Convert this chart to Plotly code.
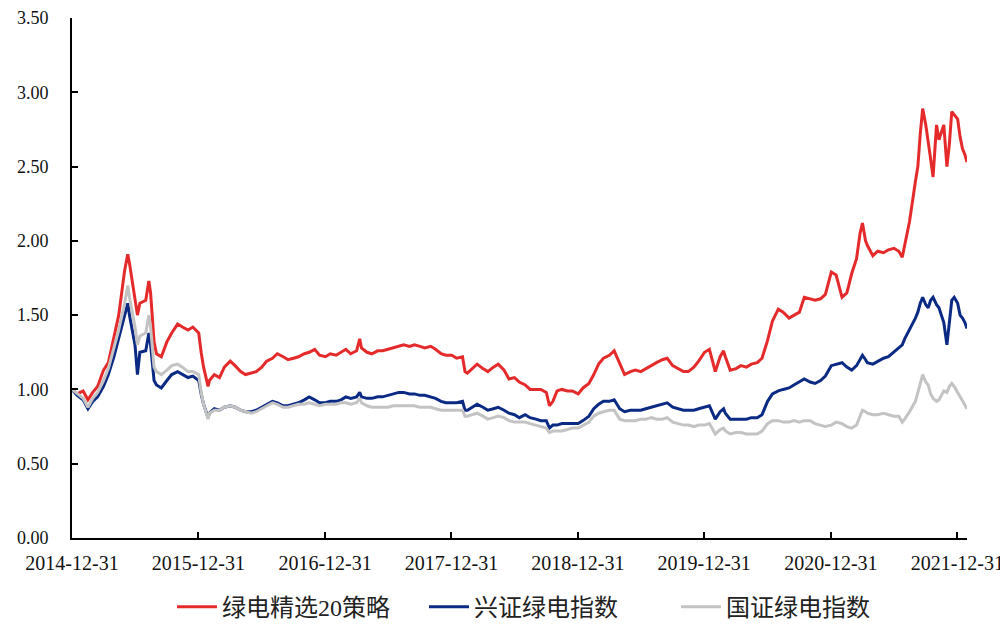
import plotly.graph_objects as go

DATES = [
    # 2015
    "2014-12-31", "2015-01-15", "2015-02-01", "2015-02-15", "2015-03-01", "2015-03-15", "2015-04-01",
    "2015-04-15", "2015-05-01", "2015-05-15", "2015-06-01", "2015-06-10", "2015-06-15", "2015-07-01",
    "2015-07-08", "2015-07-15", "2015-08-01", "2015-08-10", "2015-08-15", "2015-08-25", "2015-09-01",
    "2015-09-15", "2015-10-01", "2015-10-15", "2015-11-01", "2015-11-15", "2015-12-01", "2015-12-15",
    # 2016
    "2016-01-01", "2016-01-08", "2016-01-15", "2016-01-28", "2016-02-01", "2016-02-15", "2016-03-01",
    "2016-03-15", "2016-04-01", "2016-04-15", "2016-05-01", "2016-05-15", "2016-06-01", "2016-06-15",
    "2016-07-01", "2016-07-15", "2016-08-01", "2016-08-15", "2016-09-01", "2016-09-15", "2016-10-01",
    "2016-10-15", "2016-11-01", "2016-11-15", "2016-12-01", "2016-12-15",
    # 2017
    "2017-01-01", "2017-01-15", "2017-02-01", "2017-02-15", "2017-03-01", "2017-03-15", "2017-04-01",
    "2017-04-10", "2017-04-15", "2017-05-01", "2017-05-15", "2017-06-01", "2017-06-15", "2017-07-01",
    "2017-07-15", "2017-08-01", "2017-08-15", "2017-09-01", "2017-09-15", "2017-10-01", "2017-10-15",
    "2017-11-01", "2017-11-15", "2017-12-01", "2017-12-15",
    # 2018
    "2018-01-01", "2018-01-15", "2018-02-01", "2018-02-08", "2018-02-15", "2018-03-01", "2018-03-15",
    "2018-04-01", "2018-04-15", "2018-05-01", "2018-05-15", "2018-06-01", "2018-06-15", "2018-07-01",
    "2018-07-15", "2018-08-01", "2018-08-15", "2018-09-01", "2018-09-15", "2018-10-01", "2018-10-10",
    "2018-10-20", "2018-11-01", "2018-11-15", "2018-12-01", "2018-12-15",
    # 2019
    "2019-01-01", "2019-01-15", "2019-02-01", "2019-02-15", "2019-03-01", "2019-03-15", "2019-04-01",
    "2019-04-15", "2019-05-01", "2019-05-15", "2019-06-01", "2019-06-15", "2019-07-01", "2019-07-15",
    "2019-08-01", "2019-08-15", "2019-09-01", "2019-09-15", "2019-10-01", "2019-10-15", "2019-11-01",
    "2019-11-15", "2019-12-01", "2019-12-15",
    # 2020
    "2020-01-01", "2020-01-15", "2020-02-01", "2020-02-15", "2020-02-25", "2020-03-01", "2020-03-15",
    "2020-04-01", "2020-04-15", "2020-05-01", "2020-05-15", "2020-06-01", "2020-06-15", "2020-07-01",
    "2020-07-15", "2020-08-01", "2020-08-15", "2020-09-01", "2020-09-15", "2020-10-01", "2020-10-15",
    "2020-11-01", "2020-11-15", "2020-12-01", "2020-12-15",
    # 2021
    "2021-01-01", "2021-01-15", "2021-02-01", "2021-02-15", "2021-03-01", "2021-03-15", "2021-03-25",
    "2021-04-01", "2021-04-10", "2021-04-15", "2021-05-01", "2021-05-15", "2021-06-01", "2021-06-15",
    "2021-07-01", "2021-07-15", "2021-07-25", "2021-08-01", "2021-08-15", "2021-09-01", "2021-09-08",
    "2021-09-15", "2021-09-22", "2021-10-01", "2021-10-08", "2021-10-15", "2021-10-22", "2021-11-01",
    "2021-11-08", "2021-11-15", "2021-11-22", "2021-12-01", "2021-12-08", "2021-12-15", "2021-12-22",
    # 2022
    "2022-01-01", "2022-01-08", "2022-01-15", "2022-01-22", "2022-01-28",
]

# 绿电精选20策略
RED = [
    1.00, 0.97, 0.99, 0.93, 0.98, 1.02, 1.13, 1.18, 1.35, 1.50, 1.80, 1.91, 1.85, 1.62,
    1.50, 1.58, 1.60, 1.73, 1.65, 1.32, 1.24, 1.22, 1.32, 1.38, 1.44, 1.42, 1.40, 1.42,
    1.38, 1.25, 1.15, 1.02, 1.06, 1.10, 1.08, 1.15, 1.19, 1.16, 1.12, 1.10, 1.11, 1.12,
    1.15, 1.19, 1.21, 1.24, 1.22, 1.20, 1.21, 1.22, 1.24, 1.25, 1.27, 1.23,
    1.22, 1.24, 1.23, 1.25, 1.27, 1.24, 1.26, 1.34, 1.28, 1.25, 1.24, 1.26, 1.26, 1.27,
    1.28, 1.29, 1.30, 1.29, 1.30, 1.29, 1.28, 1.29, 1.27, 1.24, 1.23,
    1.23, 1.21, 1.22, 1.12, 1.11, 1.14, 1.17, 1.14, 1.12, 1.15, 1.17, 1.13, 1.07, 1.08,
    1.05, 1.03, 1.00, 1.00, 1.00, 0.98, 0.89, 0.92, 0.99, 1.00, 0.99, 0.99,
    0.97, 1.01, 1.04, 1.10, 1.17, 1.21, 1.23, 1.26, 1.18, 1.10, 1.12, 1.13, 1.12, 1.14,
    1.16, 1.18, 1.20, 1.21, 1.16, 1.14, 1.12, 1.12, 1.15, 1.19,
    1.25, 1.27, 1.12, 1.22, 1.26, 1.22, 1.13, 1.14, 1.16, 1.15, 1.17, 1.18, 1.21, 1.33,
    1.46, 1.54, 1.52, 1.48, 1.50, 1.52, 1.62, 1.61, 1.60, 1.61, 1.64,
    1.79, 1.77, 1.62, 1.65, 1.78, 1.88, 2.05, 2.12, 2.00, 1.97, 1.90, 1.93, 1.92, 1.94,
    1.95, 1.93, 1.89, 1.97, 2.13, 2.40, 2.50, 2.72, 2.89, 2.78, 2.65, 2.55, 2.43, 2.78,
    2.68, 2.73, 2.78, 2.50, 2.65, 2.87, 2.85,
    2.82, 2.70, 2.62, 2.58, 2.53,
]

# 兴证绿电指数
BLUE = [
    1.00, 0.96, 0.93, 0.87, 0.92, 0.95, 1.02, 1.10, 1.22, 1.35, 1.50, 1.58, 1.50, 1.30,
    1.10, 1.25, 1.26, 1.38, 1.30, 1.06, 1.03, 1.01, 1.06, 1.10, 1.12, 1.10, 1.08, 1.09,
    1.06, 0.97, 0.90, 0.81, 0.84, 0.87, 0.86, 0.88, 0.89, 0.88, 0.86, 0.85, 0.85, 0.86,
    0.88, 0.90, 0.92, 0.91, 0.89, 0.89, 0.90, 0.91, 0.93, 0.95, 0.93, 0.91,
    0.91, 0.92, 0.92, 0.93, 0.95, 0.94, 0.95, 0.98, 0.95, 0.94, 0.94, 0.95, 0.95, 0.96,
    0.97, 0.98, 0.98, 0.97, 0.97, 0.96, 0.96, 0.95, 0.94, 0.92, 0.91,
    0.91, 0.91, 0.92, 0.86, 0.86, 0.88, 0.90, 0.88, 0.86, 0.87, 0.88, 0.86, 0.84, 0.83,
    0.81, 0.83, 0.81, 0.80, 0.79, 0.79, 0.74, 0.76, 0.76, 0.77, 0.77, 0.77,
    0.77, 0.79, 0.82, 0.87, 0.90, 0.92, 0.92, 0.93, 0.87, 0.85, 0.86, 0.86, 0.86, 0.87,
    0.88, 0.89, 0.90, 0.91, 0.88, 0.87, 0.86, 0.86, 0.86, 0.87,
    0.88, 0.89, 0.80, 0.85, 0.87, 0.84, 0.80, 0.80, 0.80, 0.80, 0.81, 0.81, 0.83, 0.92,
    0.97, 0.99, 1.00, 1.01, 1.03, 1.05, 1.07, 1.05, 1.04, 1.06, 1.09,
    1.16, 1.17, 1.18, 1.15, 1.13, 1.16, 1.20, 1.23, 1.20, 1.18, 1.17, 1.19, 1.21, 1.22,
    1.25, 1.28, 1.30, 1.34, 1.40, 1.48, 1.52, 1.58, 1.62, 1.57, 1.55, 1.60, 1.62, 1.57,
    1.55, 1.50, 1.45, 1.30, 1.45, 1.60, 1.62,
    1.58, 1.50, 1.48, 1.45, 1.41,
]

# 国证绿电指数
GRAY = [
    1.00, 0.97, 0.94, 0.88, 0.94, 0.98, 1.06, 1.14, 1.28, 1.40, 1.58, 1.70, 1.62, 1.42,
    1.30, 1.36, 1.38, 1.50, 1.42, 1.15, 1.12, 1.10, 1.13, 1.16, 1.17, 1.15, 1.12, 1.12,
    1.10, 0.98, 0.90, 0.80, 0.84, 0.86, 0.86, 0.88, 0.89, 0.88, 0.86, 0.85, 0.84, 0.85,
    0.87, 0.89, 0.91, 0.90, 0.88, 0.88, 0.89, 0.90, 0.90, 0.91, 0.90, 0.89,
    0.90, 0.90, 0.90, 0.91, 0.91, 0.90, 0.91, 0.94, 0.91, 0.89, 0.88, 0.88, 0.88, 0.88,
    0.89, 0.89, 0.89, 0.89, 0.89, 0.88, 0.88, 0.88, 0.87, 0.86, 0.86,
    0.86, 0.86, 0.86, 0.82, 0.82, 0.83, 0.84, 0.82, 0.80, 0.81, 0.82, 0.81, 0.79, 0.78,
    0.78, 0.78, 0.77, 0.76, 0.75, 0.74, 0.71, 0.72, 0.72, 0.72, 0.73, 0.74,
    0.74, 0.76, 0.78, 0.82, 0.84, 0.85, 0.86, 0.86, 0.80, 0.79, 0.79, 0.79, 0.80, 0.80,
    0.81, 0.80, 0.80, 0.81, 0.78, 0.77, 0.76, 0.76, 0.75, 0.76,
    0.76, 0.77, 0.70, 0.73, 0.74, 0.72, 0.70, 0.71, 0.71, 0.70, 0.70, 0.70, 0.72, 0.77,
    0.79, 0.79, 0.78, 0.78, 0.79, 0.78, 0.79, 0.79, 0.77, 0.76, 0.75,
    0.76, 0.78, 0.77, 0.75, 0.74, 0.76, 0.82, 0.86, 0.85, 0.84, 0.83, 0.83, 0.84, 0.83,
    0.82, 0.82, 0.78, 0.80, 0.85, 0.92, 0.98, 1.05, 1.10, 1.05, 1.03, 0.97, 0.94, 0.92,
    0.93, 0.96, 0.99, 0.98, 1.02, 1.04, 1.02,
    0.98, 0.95, 0.92, 0.89, 0.87,
]

SERIES_NAMES = ["绿电精选20策略", "兴证绿电指数", "国证绿电指数"]
COLORS = ["#E42A2A", "#0B2A84", "#C3C3C3"]

TICK_DATES = ["2014-12-31", "2015-12-31", "2016-12-31", "2017-12-31",
              "2018-12-31", "2019-12-31", "2020-12-31", "2021-12-31"]
Y_TICKS = [0, 0.5, 1.0, 1.5, 2.0, 2.5, 3.0, 3.5]

assert len(DATES) == len(RED) == len(BLUE) == len(GRAY), (len(DATES), len(RED), len(BLUE), len(GRAY))

fig = go.Figure()
for name, vals, col in zip(SERIES_NAMES, [RED, BLUE, GRAY], COLORS):
    fig.add_trace(go.Scatter(x=DATES, y=vals, mode="lines", name=name,
                             line=dict(color=col, width=3)))

serif = "Liberation Serif, Times New Roman, serif"
fig.update_layout(
    width=1000, height=619,
    margin=dict(l=64, r=41, t=10, b=89, autoexpand=False),
    plot_bgcolor="white", paper_bgcolor="white",
    showlegend=True,
    legend=dict(orientation="h", x=0.1117, xanchor="left", y=-0.133, yanchor="middle",
                font=dict(family="Liberation Serif, Noto Sans CJK SC", size=24, color="#222"),
                entrywidth=197, entrywidthmode="pixels",
                itemwidth=40, tracegroupgap=0, bgcolor="rgba(0,0,0,0)"),
    font=dict(family=serif, color="#111"),
)
fig.update_xaxes(
    type="date", range=["2014-12-31", "2022-01-28"], automargin=False,
    tickmode="array", tickvals=TICK_DATES, ticktext=TICK_DATES,
    showgrid=False, zeroline=False,
    showline=True, linecolor="black", linewidth=2,
    ticks="inside", ticklen=6, tickwidth=1.5, tickcolor="black",
    tickfont=dict(family=serif, size=20, color="#111"),
    ticklabelstandoff=6, ticklabeloverflow="allow",
)
fig.update_yaxes(
    range=[0, 3.5], tickmode="array", tickvals=Y_TICKS, automargin=False,
    ticktext=[f"{v:.2f}" for v in Y_TICKS],
    showgrid=False, zeroline=False,
    showline=True, linecolor="black", linewidth=2,
    ticks="inside", ticklen=6, tickwidth=1.5, tickcolor="black",
    tickfont=dict(family=serif, size=18, color="#111"),
    ticklabelstandoff=18, ticklabeloverflow="allow",
)

fig.write_html("out.html")
